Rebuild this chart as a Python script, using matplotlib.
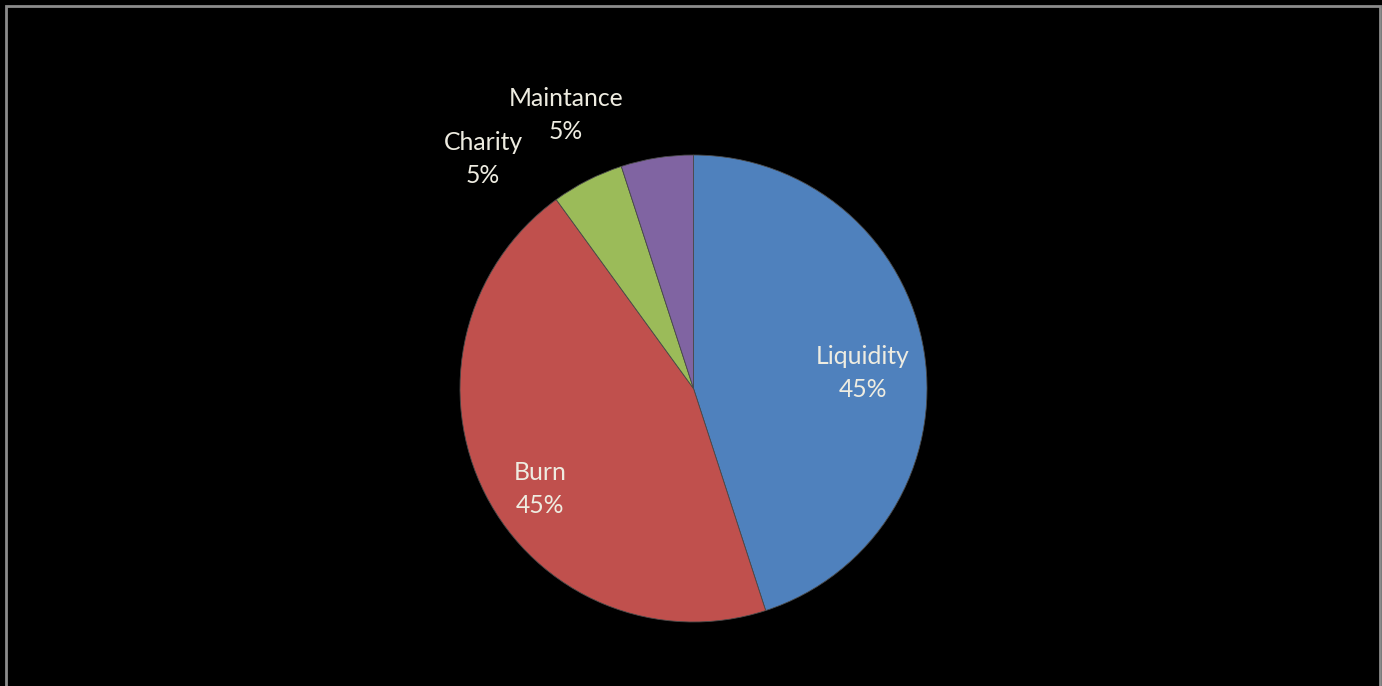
import numpy as np
import matplotlib
matplotlib.use("Agg")
import matplotlib.pyplot as plt
from matplotlib.patches import Rectangle

labels = ["Liquidity", "Burn", "Charity", "Maintance"]
shares = [45, 45, 5, 5]
colors = ["#4F81BD", "#C0504D", "#9BBB59", "#8064A2"]

W, H = 1382, 686
fig = plt.figure(figsize=(W / 100, H / 100), dpi=100, facecolor="black")

# frame line like the slide border
fig.patches.append(Rectangle((6 / W, -0.05), (1380 - 6) / W, (H - 6) / H + 0.05,
                             transform=fig.transFigure, fill=False,
                             edgecolor="#8c8c8c", linewidth=2))

cx, cy, r = 693.5, H - 388.5, 233.5
ax = fig.add_axes([(cx - r) / W, (cy - r) / H, 2 * r / W, 2 * r / H])
ax.set_facecolor("black")

wedges, texts = ax.pie(shares, colors=colors, startangle=90, counterclock=False,
                       radius=1.0, labels=[f"{l}\n{s}%" for l, s in zip(labels, shares)],
                       labeldistance=0.75,
                       wedgeprops=dict(linewidth=0.6, edgecolor="#4a4a4a"),
                       textprops=dict(color="#EEECE1", fontsize=17.8, family="Lato",
                                      ha="center", va="center", linespacing=1.55))
for t in texts:
    t.set_horizontalalignment("center")

# small slices get their labels outside (Excel best fit)
texts[2].set_position(((483 - cx) / r, (H - 159 - cy) / r))
texts[3].set_position(((566 - cx) / r, (H - 115 - cy) / r))
texts[0].set_position(((863 - cx) / r, (H - 373 - cy) / r))
texts[1].set_position(((540 - cx) / r, (H - 489 - cy) / r))

ax.set_xlim(-1, 1)
ax.set_ylim(-1, 1)
ax.set_aspect("equal")
ax.axis("off")

fig.savefig("out.png", dpi=100, facecolor="black")
